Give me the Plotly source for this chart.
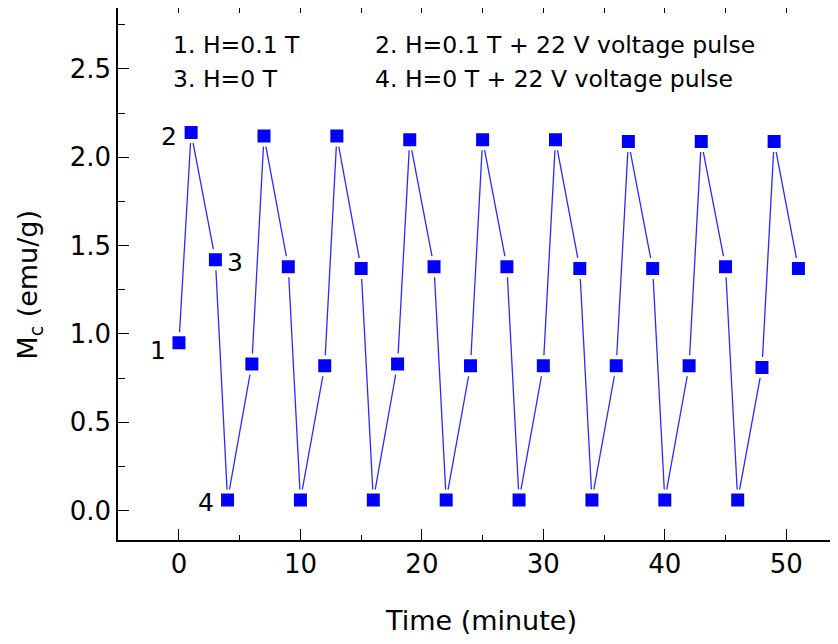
import plotly.graph_objects as go

time_min = [0, 1, 3, 4, 6, 7, 9, 10, 12, 13, 15, 16, 18, 19, 21, 22, 24, 25,
            27, 28, 30, 31, 33, 34, 36, 37, 39, 40, 42, 43, 45, 46, 48, 49, 51]
mc_values = [0.95, 2.14, 1.42, 0.06,
             0.83, 2.12, 1.38, 0.06,
             0.82, 2.12, 1.37, 0.06,
             0.83, 2.10, 1.38, 0.06,
             0.82, 2.10, 1.38, 0.06,
             0.82, 2.10, 1.37, 0.06,
             0.82, 2.09, 1.37, 0.06,
             0.82, 2.09, 1.38, 0.06,
             0.81, 2.09, 1.37]
point_labels = ["1", "2", "3", "4"]
legend_lines = [["1. H=0.1 T", "2. H=0.1 T + 22 V voltage pulse"],
                ["3. H=0 T", "4. H=0 T + 22 V voltage pulse"]]
x_ticks = [0, 10, 20, 30, 40, 50]
y_ticks = [0.0, 0.5, 1.0, 1.5, 2.0, 2.5]
x_title = "Time (minute)"
y_title = "M<sub>c</sub> (emu/g)"

FONT = "DejaVu Sans"
W = 830
L = 110
PX_PER_MIN = 12.146
X0 = -5.02
X1 = X0 + (W - L) / PX_PER_MIN

fig = go.Figure()
fig.add_trace(go.Scatter(
    x=time_min, y=mc_values, mode="lines+markers",
    line=dict(color="#2a2aff", width=1.3),
    marker=dict(symbol="square", size=17, color="#0000ff",
                line=dict(color="white", width=4)),
    showlegend=False, xaxis="x", yaxis="y"))
# invisible trace to activate top axis
fig.add_trace(go.Scatter(x=[time_min[0]], y=[mc_values[0]], mode="markers",
                         marker=dict(opacity=0), showlegend=False,
                         xaxis="x2", yaxis="y", hoverinfo="skip"))

shifts = [(-21, -8), (-22, -4), (20, -3), (-22, -2)]
for i, lab in enumerate(point_labels):
    fig.add_annotation(x=time_min[i], y=mc_values[i], text=lab, showarrow=False,
                       xref="x", yref="y", xshift=shifts[i][0], yshift=shifts[i][1],
                       font=dict(family=FONT, size=25, color="black"))

pw = W - L
leg_x = [53 / pw, 254.5 / pw]
leg_y = [0.930, 0.8665]
for r, row in enumerate(legend_lines):
    for c, txt in enumerate(row):
        fig.add_annotation(x=leg_x[c], y=leg_y[r], xref="paper", yref="paper",
                           text=txt, showarrow=False, xanchor="left", yanchor="middle",
                           font=dict(family=FONT, size=23.5, color="black"))

# axis titles
fig.add_annotation(x=363 / pw, y=-0.152, xref="paper", yref="paper", text=x_title,
                   showarrow=False, xanchor="center", yanchor="middle",
                   font=dict(family=FONT, size=27, color="black"))
fig.add_annotation(x=-88 / pw, y=0.48, xref="paper", yref="paper", text=y_title,
                   showarrow=False, xanchor="center", yanchor="middle", textangle=-90,
                   font=dict(family=FONT, size=27, color="black"))

fig.update_layout(
    width=W, height=628,
    margin=dict(l=L, r=0, t=0, b=96),
    paper_bgcolor="white", plot_bgcolor="white",
    font=dict(family=FONT, size=26, color="black"),
    xaxis=dict(range=[X0, X1], showgrid=False, zeroline=False,
               showline=True, linecolor="black", linewidth=1.5,
               tickmode="array", tickvals=x_ticks, ticks="inside", ticklen=11,
               tickwidth=1.3, tickcolor="black",
               minor=dict(dtick=5, tick0=0, ticks="inside", ticklen=5,
                          tickwidth=1.3, tickcolor="black"),
               tickfont=dict(size=26)),
    xaxis2=dict(range=[X0, X1], overlaying="x", side="top",
                showgrid=False, zeroline=False, showline=True, linecolor="black",
                linewidth=1.5, tickmode="linear", tick0=0, dtick=5,
                ticks="inside", ticklen=5, tickwidth=1.3, tickcolor="black",
                showticklabels=False),
    yaxis=dict(range=[-0.166, 2.845], showgrid=False, zeroline=False,
               showline=True, linecolor="black", linewidth=1.5,
               tickmode="array", tickvals=y_ticks, tickformat=".1f",
               ticks="inside", ticklen=11, tickwidth=1.3, tickcolor="black",
               minor=dict(dtick=0.25, tick0=0, ticks="inside", ticklen=7,
                          tickwidth=1.3, tickcolor="black"),
               tickfont=dict(size=26)),
)

fig.write_html("out.html")
